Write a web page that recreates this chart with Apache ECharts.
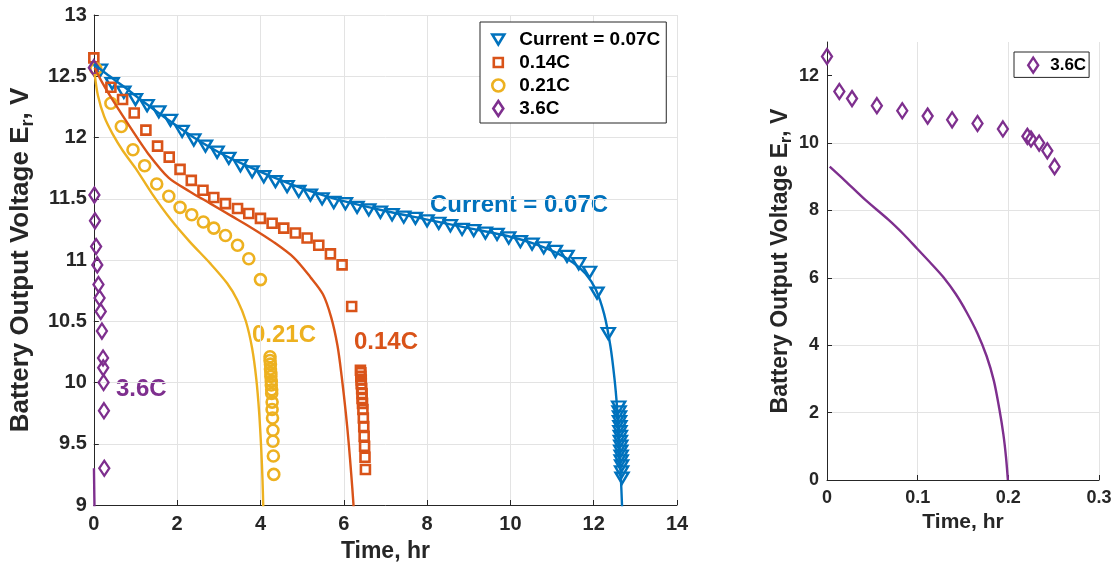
<!DOCTYPE html>
<html>
<head>
<meta charset="utf-8">
<script src="https://cdn.jsdelivr.net/npm/echarts@6/dist/echarts.min.js"></script>
<style>
  html, body { margin: 0; padding: 0; background: #fff; }
  #chart { width: 1118px; height: 571px; }
</style>
</head>
<body>
<div id="chart"></div>
<script>
// measured points, [time hr, voltage V]
const meas007 = [
  [0.16, 12.55], [0.44, 12.44], [0.72, 12.37], [1.0, 12.31], [1.28, 12.26], [1.56, 12.21],
  [1.84, 12.14], [2.12, 12.05], [2.4, 11.98], [2.68, 11.93], [2.96, 11.88], [3.24, 11.83],
  [3.52, 11.77], [3.8, 11.72], [4.08, 11.68], [4.36, 11.64], [4.64, 11.6], [4.92, 11.56],
  [5.2, 11.53], [5.48, 11.5], [5.76, 11.47], [6.04, 11.46], [6.32, 11.43], [6.6, 11.41],
  [6.88, 11.39], [7.16, 11.37], [7.44, 11.35], [7.72, 11.34], [8.0, 11.32], [8.28, 11.3],
  [8.56, 11.28], [8.84, 11.25], [9.12, 11.24], [9.4, 11.22], [9.68, 11.21], [9.96, 11.18],
  [10.24, 11.15], [10.52, 11.13], [10.8, 11.1], [11.08, 11.07], [11.36, 11.03], [11.64, 10.97],
  [11.9, 10.9], [12.08, 10.73], [12.35, 10.4],
  [12.6, 9.8], [12.61, 9.76], [12.62, 9.72], [12.62, 9.68], [12.63, 9.64], [12.63, 9.6],
  [12.64, 9.56], [12.64, 9.52], [12.65, 9.48], [12.65, 9.44], [12.66, 9.4], [12.66, 9.36],
  [12.67, 9.32], [12.67, 9.27], [12.68, 9.22]
];
const meas014 = [
  [0.0, 12.65], [0.41, 12.41], [0.69, 12.31], [0.97, 12.2], [1.25, 12.06], [1.53, 11.93],
  [1.81, 11.84], [2.07, 11.74], [2.34, 11.65], [2.62, 11.57], [2.88, 11.51], [3.16, 11.46],
  [3.45, 11.42], [3.72, 11.38], [4.0, 11.34], [4.28, 11.3], [4.56, 11.26], [4.84, 11.22],
  [5.12, 11.18], [5.4, 11.12], [5.68, 11.05], [5.96, 10.96], [6.19, 10.62],
  [6.4, 10.1], [6.41, 10.08], [6.41, 10.05], [6.42, 10.02], [6.42, 9.99], [6.43, 9.95],
  [6.44, 9.91], [6.44, 9.87], [6.45, 9.83], [6.46, 9.78], [6.47, 9.71], [6.48, 9.64],
  [6.49, 9.56], [6.5, 9.48], [6.51, 9.39], [6.52, 9.29]
];
const meas021 = [
  [0.05, 12.56], [0.41, 12.28], [0.66, 12.09], [0.94, 11.9], [1.22, 11.77], [1.51, 11.62],
  [1.8, 11.52], [2.07, 11.43], [2.35, 11.37], [2.63, 11.31], [2.88, 11.26], [3.16, 11.2],
  [3.45, 11.12], [3.72, 11.01], [4.0, 10.84],
  [4.23, 10.21], [4.23, 10.18], [4.24, 10.15], [4.24, 10.11], [4.25, 10.08], [4.25, 10.05],
  [4.26, 10.01], [4.26, 9.98], [4.27, 9.94], [4.27, 9.91], [4.28, 9.84], [4.28, 9.78],
  [4.29, 9.71], [4.3, 9.61], [4.3, 9.52], [4.31, 9.4], [4.32, 9.25]
];
const meas36 = [
  [0.0, 12.57], [0.0136, 11.53], [0.0276, 11.32], [0.055, 11.11], [0.083, 10.96], [0.111, 10.8],
  [0.138, 10.69], [0.166, 10.58], [0.194, 10.42], [0.221, 10.2], [0.225, 10.12], [0.234, 10.0],
  [0.243, 9.77], [0.251, 9.3]
];

// model curves
const model007 = [
  [0, 12.6], [0.3, 12.52], [0.7, 12.42], [1.2, 12.29], [1.8, 12.14], [2.4, 12.0], [3.0, 11.88],
  [3.6, 11.78], [4.2, 11.69], [4.8, 11.61], [5.4, 11.54], [6, 11.48], [7, 11.4], [8, 11.33],
  [9, 11.26], [10, 11.19], [10.6, 11.13], [11.1, 11.06], [11.5, 10.98], [11.8, 10.89],
  [12.05, 10.76], [12.25, 10.56], [12.4, 10.3], [12.5, 10.03], [12.56, 9.8], [12.61, 9.52],
  [12.65, 9.24], [12.68, 9.0], [12.69, 8.85]
];
const model014 = [
  [0.02, 12.57], [0.2, 12.45], [0.5, 12.28], [0.9, 12.07], [1.3, 11.87], [1.8, 11.67],
  [2.3, 11.56], [2.8, 11.46], [3.3, 11.36], [3.8, 11.26], [4.3, 11.15], [4.8, 11.02],
  [5.2, 10.86], [5.5, 10.72], [5.7, 10.53], [5.85, 10.3], [5.95, 10.05], [6.05, 9.75],
  [6.12, 9.5], [6.18, 9.25], [6.23, 9.02], [6.26, 8.85]
];
const model021 = [
  [0.02, 12.52], [0.1, 12.34], [0.25, 12.17], [0.45, 12.03], [0.7, 11.89], [1.0, 11.75],
  [1.4, 11.54], [1.85, 11.33], [2.3, 11.15], [2.8, 10.97], [3.2, 10.81], [3.45, 10.67],
  [3.65, 10.5], [3.8, 10.28], [3.9, 10.03], [3.97, 9.75], [4.02, 9.45], [4.05, 9.2], [4.07, 8.95]
];
const model36 = [
  [0.003, 9.3], [0.02, 8.88], [0.042, 8.32], [0.068, 7.72], [0.085, 7.28], [0.1, 6.85],
  [0.115, 6.42], [0.128, 6.03], [0.142, 5.52], [0.154, 4.98], [0.166, 4.35], [0.176, 3.68],
  [0.184, 2.95], [0.19, 2.12], [0.1945, 1.36], [0.1975, 0.66], [0.1995, 0]
];

const xTicksLeft = [0, 2, 4, 6, 8, 10, 12, 14];
const yTicksLeft = [9, 9.5, 10, 10.5, 11, 11.5, 12, 12.5, 13];
const xTicksRight = [0, 0.1, 0.2, 0.3];
const yTicksRight = [0, 2, 4, 6, 8, 10, 12];

const BLUE = '#0072BD', ORANGE = '#D95319', YELLOW = '#EDB120', PURPLE = '#7E2F8E';
const FONT = 'Liberation Sans, Arial, Helvetica, sans-serif';
const INK = '#262626';
const GRID = '#e3e3e3';

// legend icons: the two leading moves pad the box so keepAspect leaves them small
const ICON_TRI = 'path://M0,0M16,16M2,3L14,3L8,13Z';
const ICON_SQ = 'path://M0,0M16,16M3.5,3.5L12.5,3.5L12.5,12.5L3.5,12.5Z';
const ICON_CIR = 'path://M0,0M16,16M8,2A6,6,0,1,1,7.99,2Z';
const ICON_DIA = 'path://M0,0M16,16M8,0.5L13,8L8,15.5L3,8Z';

function label(size, custom, margin) {
  return { color: INK, fontFamily: FONT, fontWeight: 'bold', fontSize: size, margin: margin,
    customValues: custom };
}

function ticks(custom) {
  return { show: true, inside: true, length: 5, lineStyle: { color: INK }, customValues: custom };
}

function axis(extra) {
  return Object.assign({
    type: 'value',
    nameLocation: 'middle',
    axisLine: { show: true, lineStyle: { color: INK, width: 1 } },
    splitLine: { show: true, lineStyle: { color: GRID, width: 1 } }
  }, extra);
}

function nameStyle(size) {
  return {
    color: INK, fontFamily: FONT, fontWeight: 'bold', fontSize: size,
    rich: {
      t: { color: INK, fontFamily: FONT, fontWeight: 'bold', fontSize: size, lineHeight: size + 6 },
      s: { color: INK, fontFamily: FONT, fontWeight: 'bold', fontSize: Math.round(size * 0.7),
           lineHeight: Math.round(size * 0.6), verticalAlign: 'bottom' }
    }
  };
}

function hollow(color, width) {
  return { color: 'rgba(255,255,255,0)', borderColor: color, borderWidth: width, opacity: 1 };
}

const chart = echarts.init(document.getElementById('chart'));
chart.setOption({
  animation: false,
  backgroundColor: '#fff',
  grid: [
    { left: 93, top: 15, width: 584, height: 490 },
    { left: 827, top: 42, width: 272, height: 438 }
  ],
  xAxis: [
    axis({
      gridIndex: 0, min: 0, max: 14, interval: 2, name: 'Time, hr', nameGap: 35,
      nameTextStyle: nameStyle(23),
      axisLabel: label(20, xTicksLeft, 9), axisTick: ticks(xTicksLeft)
    }),
    axis({
      gridIndex: 1, min: 0, max: 0.3, interval: 0.1, name: 'Time, hr', nameGap: 32,
      nameTextStyle: nameStyle(21),
      axisLabel: label(18, xTicksRight, 9), axisTick: ticks(xTicksRight)
    })
  ],
  yAxis: [
    axis({
      gridIndex: 0, min: 9, max: 13, interval: 0.5, nameGap: 52,
      name: '{t|Battery Output Voltage E}{s|r}{t|, V}',
      nameTextStyle: nameStyle(26),
      axisLabel: label(20, yTicksLeft, 7), axisTick: ticks(yTicksLeft)
    }),
    axis({
      gridIndex: 1, min: 0, max: 13, interval: 2, nameGap: 32,
      name: '{t|Battery Output Voltage E}{s|r}{t|, V}',
      nameTextStyle: nameStyle(23),
      splitLine: { show: true, showMaxLine: false, lineStyle: { color: GRID, width: 1 } },
      axisLabel: label(18, yTicksRight, 8), axisTick: ticks(yTicksRight)
    })
  ],
  legend: [
    {
      data: [
        { name: 'Current = 0.07C', icon: ICON_TRI, itemStyle: hollow(BLUE, 2.6) },
        { name: '0.14C', icon: ICON_SQ, itemStyle: hollow(ORANGE, 2.6) },
        { name: '0.21C', icon: ICON_CIR, itemStyle: hollow(YELLOW, 2.6) },
        { name: '3.6C', icon: ICON_DIA, itemStyle: hollow(PURPLE, 2.6) }
      ],
      orient: 'vertical', left: 480, top: 22, width: 185,
      backgroundColor: '#fff', borderColor: INK, borderWidth: 1,
      padding: [8, 6, 5, 9], itemGap: 4, itemWidth: 16, itemHeight: 16,
      textStyle: { color: '#000', fontFamily: FONT, fontWeight: 'bold', fontSize: 19, padding: [0, 0, 0, 8] },
      selectedMode: false
    },
    {
      data: [{ name: '3.6C', icon: ICON_DIA, itemStyle: hollow(PURPLE, 2.4) }],
      orient: 'vertical', left: 1014, top: 52,
      backgroundColor: '#fff', borderColor: INK, borderWidth: 1,
      padding: [4, 3, 3, 10], itemWidth: 16, itemHeight: 16,
      textStyle: { color: '#000', fontFamily: FONT, fontWeight: 'bold', fontSize: 17, padding: [0, 0, 0, 4] },
      selectedMode: false
    }
  ],
  series: [
    { type: 'line', name: 'model 0.07C', xAxisIndex: 0, yAxisIndex: 0, data: model007,
      showSymbol: false, smooth: 0.3, lineStyle: { color: BLUE, width: 2.4 } },
    { type: 'line', name: 'model 0.14C', xAxisIndex: 0, yAxisIndex: 0, data: model014,
      showSymbol: false, smooth: 0.3, lineStyle: { color: ORANGE, width: 2.4 } },
    { type: 'line', name: 'model 0.21C', xAxisIndex: 0, yAxisIndex: 0, data: model021,
      showSymbol: false, smooth: 0.3, lineStyle: { color: YELLOW, width: 2.4 } },
    { type: 'line', name: 'model 3.6C', xAxisIndex: 0, yAxisIndex: 0, data: model36,
      showSymbol: false, smooth: 0.3, lineStyle: { color: PURPLE, width: 2.4 } },
    { type: 'scatter', name: 'Current = 0.07C', xAxisIndex: 0, yAxisIndex: 0, data: meas007,
      symbol: 'triangle', symbolRotate: 180, symbolSize: [13, 11], itemStyle: hollow(BLUE, 2.4) },
    { type: 'scatter', name: '0.14C', xAxisIndex: 0, yAxisIndex: 0, data: meas014,
      symbol: 'rect', symbolSize: 9, itemStyle: hollow(ORANGE, 2.6) },
    { type: 'scatter', name: '0.21C', xAxisIndex: 0, yAxisIndex: 0, data: meas021,
      symbol: 'circle', symbolSize: 11, itemStyle: hollow(YELLOW, 2.6) },
    { type: 'scatter', name: '3.6C', xAxisIndex: 0, yAxisIndex: 0, data: meas36,
      symbol: 'diamond', symbolSize: [10, 15], itemStyle: hollow(PURPLE, 2.4) },
    { type: 'line', name: 'model 3.6C right', xAxisIndex: 1, yAxisIndex: 1, data: model36,
      showSymbol: false, smooth: 0.3, lineStyle: { color: PURPLE, width: 2.4 } },
    { type: 'scatter', name: '3.6C', xAxisIndex: 1, yAxisIndex: 1, data: meas36,
      symbol: 'diamond', symbolSize: [10, 15], itemStyle: hollow(PURPLE, 2.4) }
  ],
  graphic: [
    { type: 'text', x: 430, y: 205, style: { text: 'Current = 0.07C', fill: BLUE,
      font: 'bold 24px ' + FONT, verticalAlign: 'middle' } },
    { type: 'text', x: 252, y: 335, style: { text: '0.21C', fill: YELLOW,
      font: 'bold 24px ' + FONT, verticalAlign: 'middle' } },
    { type: 'text', x: 354, y: 342, style: { text: '0.14C', fill: ORANGE,
      font: 'bold 24px ' + FONT, verticalAlign: 'middle' } },
    { type: 'text', x: 116, y: 389, style: { text: '3.6C', fill: PURPLE,
      font: 'bold 24px ' + FONT, verticalAlign: 'middle' } }
  ]
});
</script>
</body>
</html>
